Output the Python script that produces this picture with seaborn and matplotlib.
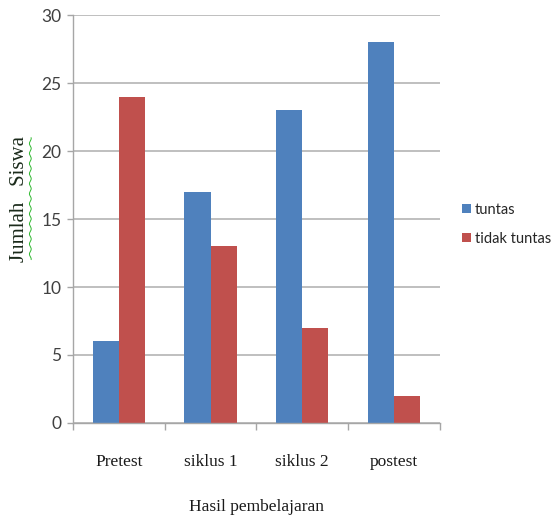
import numpy as np
import pandas as pd
import matplotlib.pyplot as plt
import seaborn as sns

# data
categories = ['Pretest', 'siklus 1', 'siklus 2', 'postest']
tuntas = [6, 17, 23, 28]
tidak_tuntas = [24, 13, 7, 2]
series_names = ['tuntas', 'tidak tuntas']
yticks = [0, 5, 10, 15, 20, 25, 30]

df = pd.DataFrame({
    'Hasil': categories * 2,
    'Jumlah': tuntas + tidak_tuntas,
    'Status': [series_names[0]] * 4 + [series_names[1]] * 4,
})

sns.set_style('white')
plt.rcParams['font.family'] = ['Lato', 'DejaVu Sans']

fig = plt.figure(figsize=(5.52, 5.19), dpi=100)
ax = fig.add_axes([0.132, 0.185, 0.665, 0.786])

sns.barplot(data=df, x='Hasil', y='Jumlah', hue='Status', order=categories,
            palette=['#4F81BD', '#C0504D'], width=0.57, saturation=1,
            linewidth=0, ax=ax, legend=True)

ax.set_xlim(-0.5, 3.5)
ax.set_ylim(0, 30)
ax.set_yticks(yticks)
ax.yaxis.grid(True, color='#BFBFBF', linewidth=1.4)
ax.set_axisbelow(True)
for side in ['top', 'right']:
    ax.spines[side].set_visible(False)
for side in ['left', 'bottom']:
    ax.spines[side].set_color('#A6A6A6')
    ax.spines[side].set_linewidth(1.0)

ax.tick_params(axis='y', left=True, length=4.3, width=1, color='#A6A6A6',
               labelsize=12.5, labelcolor='#404040', pad=4)
ax.set_xticks(range(len(categories)))
ax.set_xticklabels(categories, family=['Liberation Serif'], fontsize=12.5)
ax.tick_params(axis='x', which='major', length=0, pad=22, labelcolor='#1a1a1a')
ax.set_xticks(np.arange(-0.5, len(categories), 1.0), minor=True)
ax.tick_params(axis='x', which='minor', bottom=True, length=5, width=1,
               color='#A6A6A6')

ax.set_xlabel('Hasil pembelajaran', family=['Liberation Serif'], fontsize=12.5,
              color='#1a1a1a', labelpad=21)
ax.set_ylabel('Jumlah   Siswa', family=['Liberation Serif'], fontsize=15,
              color='#1a2a1a')
ax.yaxis.set_label_coords(-0.12, 0.55)

leg = ax.legend(loc='center left', bbox_to_anchor=(1.06, 0.487), frameon=False,
                borderaxespad=0, borderpad=0,
                handlelength=0.6, handleheight=0.6, handletextpad=0.3,
                labelspacing=1.05, fontsize=10.5)
for t in leg.get_texts():
    t.set_color('#262626')

# green wavy spell-check underline next to the y label
fig.canvas.draw()
bb = ax.yaxis.label.get_window_extent()
ys = np.linspace(bb.y0 + 2, bb.y1 - 2, 150)
xs = bb.x1 + 1.5 + 0.9 * np.sin((ys - bb.y0) / 1.6)
inv = fig.transFigure.inverted()
pts = inv.transform(np.column_stack([xs, ys]))
fig.add_artist(plt.Line2D(pts[:, 0], pts[:, 1], color='#2EB82E', linewidth=0.7))

fig.savefig('out.png', dpi=100)
